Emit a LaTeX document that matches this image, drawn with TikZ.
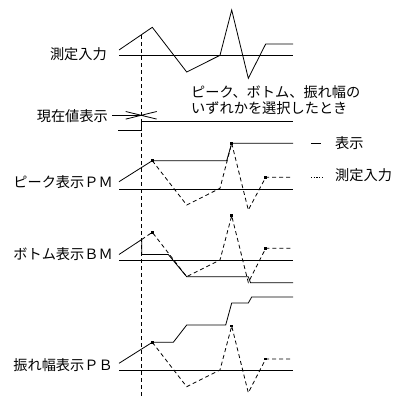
\documentclass[tikz,border=0pt]{standalone}
\usepackage{fontspec}
\setmainfont{Noto Sans CJK JP}
\usepackage{tikz}
\usetikzlibrary{positioning}

\begin{document}
\begin{tikzpicture}[
  x=1pt,y=-1pt,
  font=\fontsize{14.2}{16}\selectfont,
  lbl/.style={anchor=east,inner sep=0pt},
  base/.style={line width=0.8pt},
  sig/.style={line width=0.8pt},
  inp/.style={line width=0.8pt,dash pattern=on 4pt off 3pt},
  pk/.style={fill,rectangle,inner sep=0pt,minimum size=2.8pt},
]
\useasboundingbox (0,0) rectangle (395,399);

% switching instant
\draw[inp] (141.7,35) -- (141.7,397);

% measured input
\node[lbl] (lin) at (107,54) {測定入力};
\draw[base] (119,55.5) -- (293,55.5);
\draw[sig] (119,50) -- (152.3,27.3) -- (186.7,72) -- (220,55.3) -- (231.7,10) -- (248.3,78.3) -- (265.7,44) -- (293,44);

\node[anchor=west,inner sep=0pt,align=left] (note) at (191,99.7) {ピーク、ボトム、振れ幅の\\いずれかを選択したとき};

% current value
\node[lbl] (lcur) at (108,116) {現在値表示};
\coordinate (sw) at (141.2,115.3);
\draw[base] (lcur.east) ++(4,-0.7) -- (sw);
\draw[base] (125.7,111.5) -- (156.7,119.1) (125.7,119.1) -- (156.7,111.5);
\draw[sig] (118.3,130.7) -- (141.7,130.7) -- (141.7,121.3) -- (293,121.3);

% legend
\node[anchor=west,inner sep=0pt] (kshow) at (335,143.3) {表示};
\node[anchor=west,inner sep=0pt] (kin) at (335,175) {測定入力};
\draw[sig] ([xshift=-24pt]kshow.west) -- ([xshift=-14pt]kshow.west);
\draw[line width=0.8pt,dash pattern=on 1.2pt off 1.5pt] ([xshift=-24pt,yshift=-2pt]kin.west) -- ([xshift=-13pt,yshift=-2pt]kin.west);

% peak
\node[lbl] (lpm) at (113,182) {ピーク表示ＰＭ};
\draw[base] (119,189) -- (293,189);
\node[pk] (pm1) at (152.3,160.7) {};
\node[pk] (pm2) at (231.7,143.3) {};
\node[pk] (pm3) at (265.7,177.3) {};
\draw[sig] (119,181.7) -- (pm1.center) -- (226.7,160.7) -- (pm2.center) -- (293,143.3);
\draw[inp] (pm1.center) -- (186.7,205) -- (220,188.3) -- (pm2.center) -- (248.3,210) -- (pm3.center) -- (293,177.3);

% bottom
\node[lbl] (lbm) at (113,254) {ボトム表示ＢＭ};
\draw[base] (119,260) -- (293,260);
\node[pk] (bm1) at (152.3,232.3) {};
\node[pk] (bm2) at (231.7,215.7) {};
\node[pk] (bm3) at (265.7,248.3) {};
\draw[sig] (119,254.5) -- (141.7,239.5) -- (141.7,254.5) -- (168.3,254.5) -- (186.7,276.7) -- (248.3,276.7) -- (250.5,282.7) -- (293,282.7);
\draw[inp] (141.7,239.5) -- (bm1.center) -- (186.7,276.7) -- (220,260) -- (bm2.center) -- (248.3,282.5) -- (bm3.center) -- (293,248.3);

% amplitude
\node[lbl] (lpb) at (113,365) {振れ幅表示ＰＢ};
\draw[base] (119,370) -- (293,370);
\node[pk] (pb1) at (152.3,342.3) {};
\node[pk] (pb2) at (231.7,326) {};
\node[pk] (pb3) at (265.7,359) {};
\draw[sig] (119,363.3) -- (pb1.center) -- (173.3,342.3) -- (186.7,325) -- (225.7,325) -- (231.7,303) -- (248.3,303) -- (251.7,297) -- (293,297);
\draw[inp] (pb1.center) -- (186.7,386.7) -- (220,370) -- (pb2.center) -- (248.3,392.7) -- (pb3.center) -- (293,359);
\end{tikzpicture}
\end{document}
